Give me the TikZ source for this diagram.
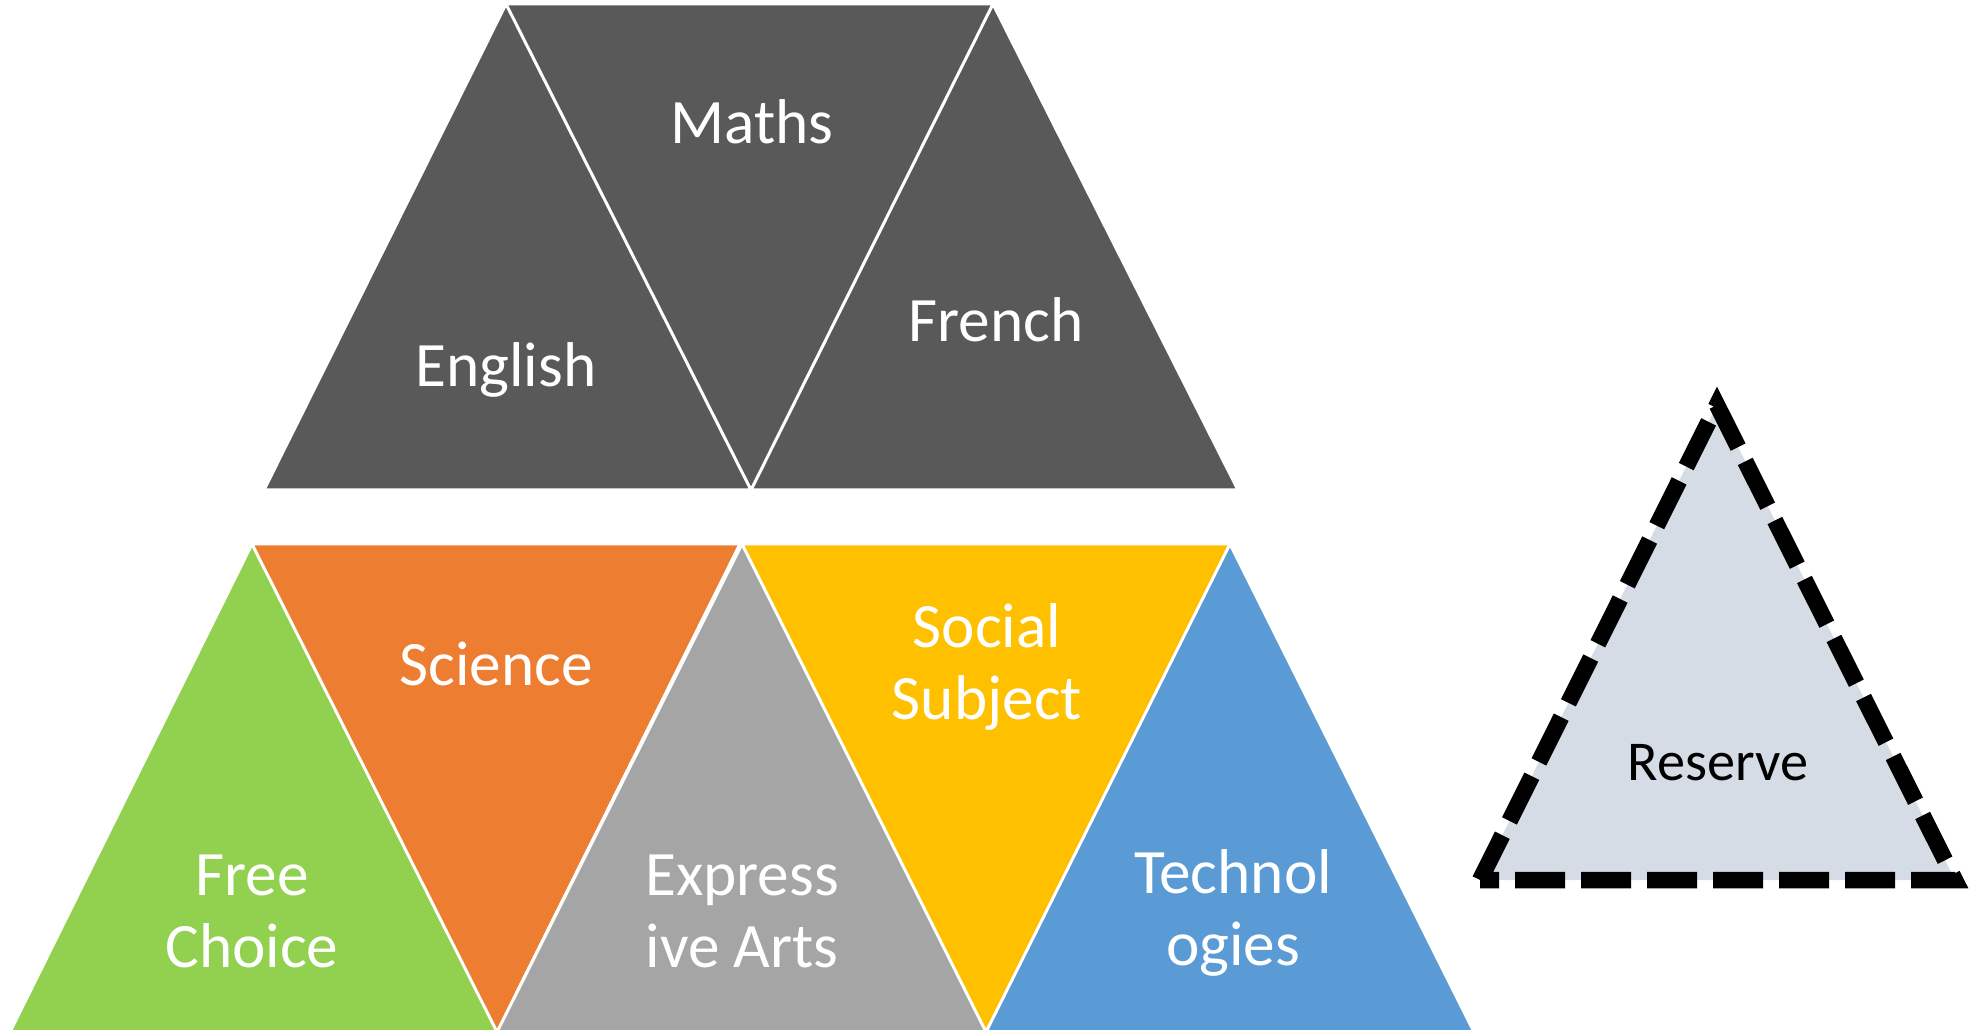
\documentclass[tikz,border=0pt]{standalone}
\usepackage{fontspec}
\setmainfont{Carlito}
\usepackage{tikz}
\usetikzlibrary{positioning}
\definecolor{topgray}{HTML}{595959}
\definecolor{sciorange}{HTML}{ED7D31}
\definecolor{freegreen}{HTML}{92D050}
\definecolor{artgray}{HTML}{A5A5A5}
\definecolor{socgold}{HTML}{FFC000}
\definecolor{techblue}{HTML}{5B9BD5}
\definecolor{resfill}{HTML}{D6DCE5}
\def\english{(264,490) -- (506,4) -- (751,490) -- cycle}
\def\maths{(506,4) -- (993,4) -- (751,490) -- cycle}
\def\french{(751,490) -- (993,4) -- (1238,490) -- cycle}
\def\freechoice{(10,1032) -- (252,544) -- (497,1032) -- cycle}
\def\science{(252,544) -- (740,544) -- (497,1032) -- cycle}
\def\expressive{(497,1032) -- (742,544) -- (986,1032) -- cycle}
\def\social{(742,544) -- (1230,544) -- (986,1032) -- cycle}
\def\technologies{(986,1032) -- (1230,544) -- (1474,1032) -- cycle}
\def\reserve{(1480,880) -- (1717,405) -- (1955,880) -- cycle}
\tikzset{
  subj/.style={text=white,align=center,font=\fontsize{18}{20.5}\selectfont},
  edge/.style={white,line width=0.3mm,line join=round}
}

\begin{document}
\begin{tikzpicture}[x=0.1mm,y=-0.1mm]
\useasboundingbox (0,0) rectangle (1972,1030);
   \fill[topgray] \english;
     \fill[topgray] \maths;
       \fill[topgray] \french;
   \draw[edge] \english \maths \french;
   \fill[freegreen] \freechoice;
     \fill[sciorange] \science;
       \fill[artgray] \expressive;
         \fill[socgold] \social;
           \fill[techblue] \technologies;
   \draw[edge] \freechoice \science \expressive \social \technologies;
   \fill[resfill] \reserve;
   \draw[black,line width=1.65mm,dash pattern=on 5mm off 1.6mm] \reserve;
\node[subj] (maths) at (752,122) {Maths};
\node[subj] (english) at (506,370) {English};
\node[subj] (french) at (996,320) {French};
\node[subj] (science) at (496,664) {Science};
\node[subj] (social) at (987,667) {Social\\Subject};
\node[subj] (free) at (252,911) {Free\\Choice};
\node[subj] (arts) at (742,911) {Express\\ive Arts};
\node[subj] (tech) at (1233,913) {Technol\\ogies};
\node[subj,text=black,font=\fontsize{16}{19}\selectfont] (res) at (1718,763) {Reserve};
\end{tikzpicture}
\end{document}
